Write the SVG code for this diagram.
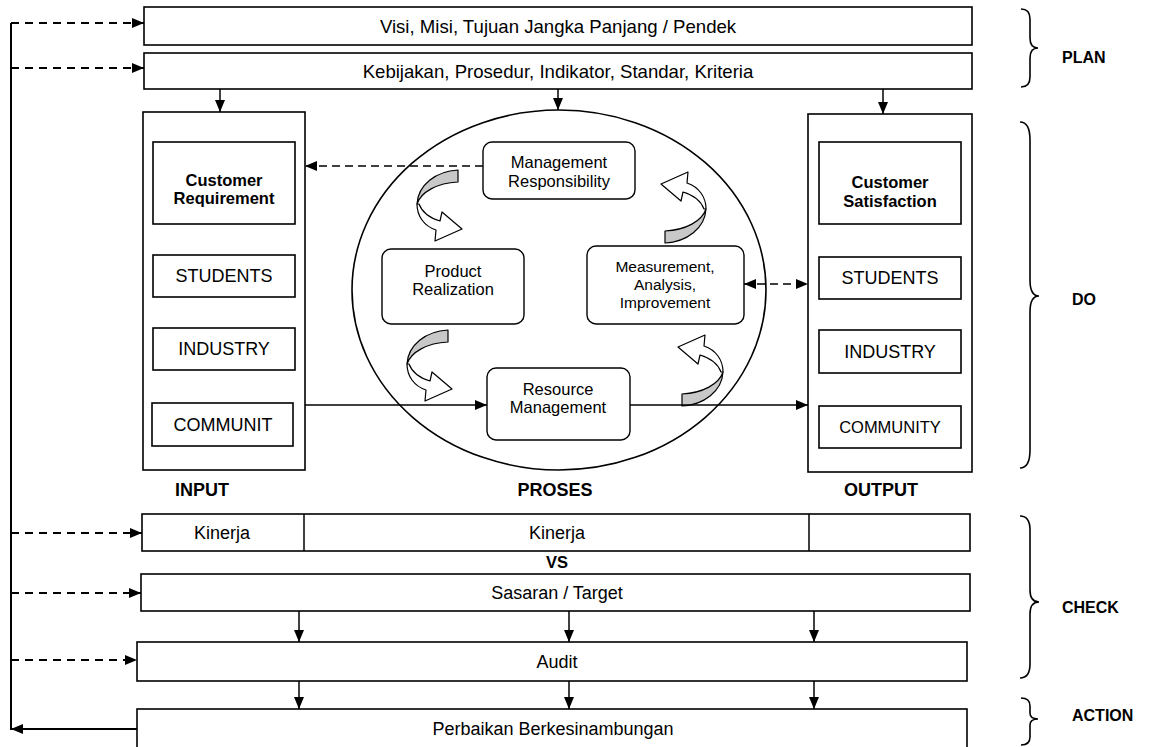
<svg xmlns="http://www.w3.org/2000/svg" width="1154" height="747" viewBox="0 0 1154 747">
<defs>
<style>
.box{fill:#fff;stroke:#000;stroke-width:1.6}
.rbox{fill:#fff;stroke:#000;stroke-width:1.4}
.t{font-family:"Liberation Sans",Arial,sans-serif;font-size:18px;fill:#000;text-anchor:middle}
.tt{font-family:"Liberation Sans",Arial,sans-serif;font-size:18.6px;fill:#000;text-anchor:middle}
.tm{font-family:"Liberation Sans",Arial,sans-serif;font-size:16.5px;fill:#000;text-anchor:middle}
.tb{font-family:"Liberation Sans",Arial,sans-serif;font-size:16.5px;font-weight:bold;fill:#000;text-anchor:middle}
.lbl{font-family:"Liberation Sans",Arial,sans-serif;font-size:18px;font-weight:bold;fill:#000;text-anchor:middle}
.ph{font-family:"Liberation Sans",Arial,sans-serif;font-size:16px;font-weight:bold;fill:#000;text-anchor:start}
.ln{fill:none;stroke:#000;stroke-width:1.5}
.fb{fill:none;stroke:#000;stroke-width:2}
.dfb{fill:none;stroke:#000;stroke-width:2;stroke-dasharray:8 6}
.dl{fill:none;stroke:#000;stroke-width:1.5;stroke-dasharray:8 5}
.brace{fill:none;stroke:#000;stroke-width:1.6}
.band{fill:#c8c8c8;stroke:#000;stroke-width:1.2;stroke-linejoin:round}
.head{fill:#fff;stroke:#000;stroke-width:1.2;stroke-linejoin:round}
</style>
<marker id="ah" viewBox="0 0 12 10" refX="12" refY="5" markerWidth="12" markerHeight="10" markerUnits="userSpaceOnUse" orient="auto-start-reverse">
<path d="M0,0 L12,5 L0,10 z" fill="#000"/>
</marker>
<g id="curved">
<path class="band" d="M458,170 C436,171 418,185 417,204 C421,192 437,183 458,182 Z"/>
<path class="head" d="M417,204 C417,216 424,226 436,230 L435,241 L462,229 L442,212 L440,221 C430,218 422,212 419,204 Z"/>
</g>
</defs>

<!-- PLAN boxes -->
<g id="visi"><rect class="box" x="144" y="7" width="828" height="38"/><text class="tt" x="558" y="33">Visi, Misi, Tujuan Jangka Panjang / Pendek</text></g>
<g id="kebijakan"><rect class="box" x="144" y="53" width="828" height="36"/><text class="tt" x="558" y="78">Kebijakan, Prosedur, Indikator, Standar, Kriteria</text></g>

<!-- INPUT -->
<g id="input">
<rect class="box" x="143" y="112" width="162" height="358"/>
<rect class="box" x="153" y="142" width="142" height="82"/>
<text class="tb" x="224" y="186">Customer</text><text class="tb" x="224" y="204">Requirement</text>
<rect class="box" x="153" y="255" width="142" height="42"/><text class="t" x="224" y="282">STUDENTS</text>
<rect class="box" x="153" y="328" width="142" height="42"/><text class="t" x="224" y="355">INDUSTRY</text>
<rect class="box" x="152" y="403" width="141" height="43"/><text class="t" x="223" y="431">COMMUNIT</text>
<text class="lbl" x="202" y="496">INPUT</text>
</g>

<!-- OUTPUT -->
<g id="output">
<rect class="box" x="808" y="114" width="164" height="358"/>
<rect class="box" x="819" y="142" width="142" height="82"/>
<text class="tb" x="890" y="188">Customer</text><text class="tb" x="890" y="207">Satisfaction</text>
<rect class="box" x="819" y="257" width="142" height="42"/><text class="t" x="890" y="284">STUDENTS</text>
<rect class="box" x="819" y="330" width="142" height="43"/><text class="t" x="890" y="358">INDUSTRY</text>
<rect class="box" x="819" y="406" width="142" height="42"/><text class="tm" x="890" y="433">COMMUNITY</text>
<text class="lbl" x="881" y="496">OUTPUT</text>
</g>

<!-- PROSES -->
<g id="proses">
<ellipse cx="559" cy="290" rx="207" ry="180" fill="none" stroke="#000" stroke-width="1.6"/>
<text class="lbl" x="555" y="496">PROSES</text>
</g>
<g id="mgmt-resp"><rect class="rbox" x="483" y="142" width="152" height="57" rx="9"/><text class="tm" x="559" y="168">Management</text><text class="tm" x="559" y="187">Responsibility</text></g>
<g id="product"><rect class="rbox" x="382" y="249" width="142" height="75" rx="9"/><text class="tm" x="453" y="277">Product</text><text class="tm" x="453" y="295">Realization</text></g>
<g id="measurement"><rect class="rbox" x="587" y="246" width="157" height="78" rx="9"/><text class="tm" x="665" y="272" style="font-size:15.5px">Measurement,</text><text class="tm" x="665" y="290" style="font-size:15.5px">Analysis,</text><text class="tm" x="665" y="308" style="font-size:15.5px">Improvement</text></g>
<g id="resource"><rect class="rbox" x="487" y="368" width="143" height="72" rx="9"/><text class="tm" x="558" y="395">Resource</text><text class="tm" x="558" y="413">Management</text></g>

<!-- cycle arrows -->
<g id="cycle-arrows">
<use href="#curved"/>
<use href="#curved" transform="rotate(180 561.5 206.5)"/>
<use href="#curved" transform="translate(-10 160)"/>
<use href="#curved" transform="rotate(180 570 288)"/>
</g>

<!-- CHECK -->
<g id="kinerja">
<rect class="box" x="142" y="514" width="828" height="37"/>
<line class="ln" x1="304" y1="514" x2="304" y2="551" stroke-width="1.6"/>
<line class="ln" x1="809" y1="514" x2="809" y2="551" stroke-width="1.6"/>
<text class="t" x="222" y="539">Kinerja</text>
<text class="t" x="557" y="539">Kinerja</text>
</g>
<g id="vs"><text class="tb" x="557" y="568">VS</text></g>
<g id="sasaran"><rect class="box" x="141" y="574" width="829" height="37"/><text class="t" x="557" y="599">Sasaran / Target</text></g>
<g id="audit"><rect class="box" x="137" y="642" width="830" height="39"/><text class="t" x="557" y="668">Audit</text></g>
<g id="perbaikan"><rect class="box" x="137" y="709" width="830" height="45"/><text class="t" x="553" y="735">Perbaikan Berkesinambungan</text></g>

<!-- braces -->
<g id="phases">
<path class="brace" d="M1021,9 Q1030,9 1030,19 L1030,38 Q1030,48 1038,48 Q1030,48 1030,58 L1030,77 Q1030,87 1021,87"/>
<text class="ph" x="1062" y="63">PLAN</text>
<path class="brace" d="M1020,122 Q1030,122 1030,140 L1030,280 Q1030,296 1039,296 Q1030,296 1030,312 L1030,450 Q1030,468 1020,468"/>
<text class="ph" x="1072" y="305">DO</text>
<path class="brace" d="M1020,516 Q1030,516 1030,530 L1030,590 Q1030,602 1039,602 Q1030,602 1030,614 L1030,664 Q1030,678 1020,678"/>
<text class="ph" x="1062" y="613">CHECK</text>
<path class="brace" d="M1021,698 Q1030,698 1030,706 L1030,713 Q1030,719 1038,719 Q1030,719 1030,725 L1030,737 Q1030,745 1021,745"/>
<text class="ph" x="1072" y="721">ACTION</text>
</g>

<!-- connectors -->
<g id="connectors">
<line class="ln" x1="220" y1="89" x2="220" y2="112" marker-end="url(#ah)"/>
<line class="ln" x1="558" y1="89" x2="558" y2="110" marker-end="url(#ah)"/>
<line class="ln" x1="883" y1="89" x2="883" y2="114" marker-end="url(#ah)"/>
<line class="dl" x1="483" y1="166" x2="305" y2="166" marker-end="url(#ah)"/>
<line class="dl" x1="744" y1="284" x2="808" y2="284" marker-start="url(#ah)" marker-end="url(#ah)"/>
<line class="ln" x1="305" y1="405" x2="487" y2="405" marker-end="url(#ah)"/>
<line class="ln" x1="630" y1="405" x2="808" y2="405" marker-end="url(#ah)"/>
<line class="ln" x1="299" y1="611" x2="299" y2="642" marker-end="url(#ah)"/>
<line class="ln" x1="569" y1="611" x2="569" y2="642" marker-end="url(#ah)"/>
<line class="ln" x1="814" y1="611" x2="814" y2="642" marker-end="url(#ah)"/>
<line class="ln" x1="299" y1="681" x2="299" y2="709" marker-end="url(#ah)"/>
<line class="ln" x1="569" y1="681" x2="569" y2="709" marker-end="url(#ah)"/>
<line class="ln" x1="814" y1="681" x2="814" y2="709" marker-end="url(#ah)"/>
<polyline class="fb" points="137,729 11,729 11,23"/>
<line class="fb" x1="40" y1="729" x2="11" y2="729" marker-end="url(#ah)"/>
<line class="dfb" x1="11" y1="23" x2="144" y2="23" marker-end="url(#ah)"/>
<line class="dfb" x1="11" y1="68" x2="144" y2="68" marker-end="url(#ah)"/>
<line class="dfb" x1="11" y1="533" x2="142" y2="533" marker-end="url(#ah)"/>
<line class="dfb" x1="11" y1="593" x2="141" y2="593" marker-end="url(#ah)"/>
<line class="dfb" x1="11" y1="660" x2="137" y2="660" marker-end="url(#ah)"/>
</g>
</svg>
